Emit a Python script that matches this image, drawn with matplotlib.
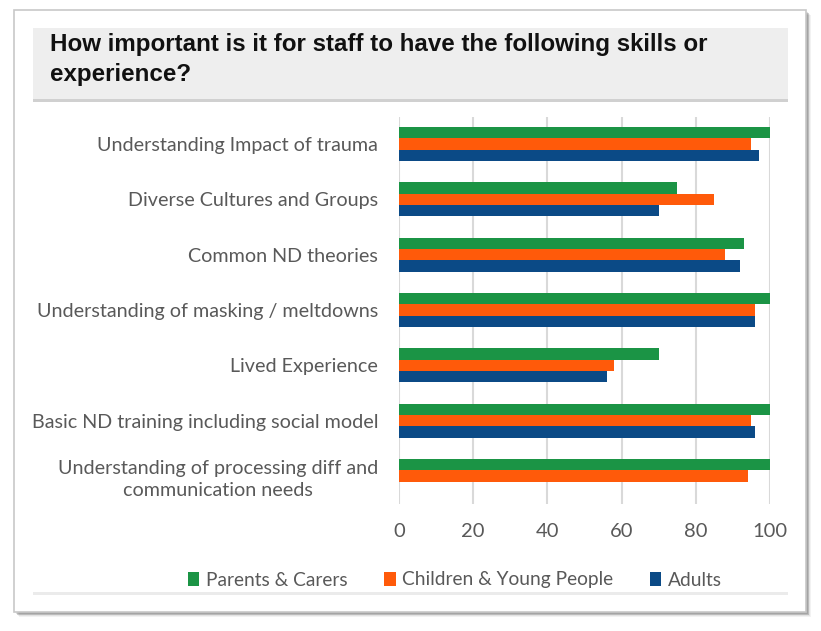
import numpy as np
import matplotlib
matplotlib.use("Agg")
import matplotlib.pyplot as plt
from matplotlib.patches import Rectangle
from matplotlib.transforms import Bbox

categories = [
    "Understanding Impact of trauma",
    "Diverse Cultures and Groups",
    "Common ND theories",
    "Understanding of masking / meltdowns",
    "Lived Experience",
    "Basic ND training including social model",
    "Understanding of processing diff and\ncommunication needs",
]
parents = [100, 75, 93, 100, 70, 100, 100]
children = [95, 85, 88, 96, 58, 95, 94]
adults = [97, 70, 92, 96, 56, 96, np.nan]
series_names = ["Parents & Carers", "Children & Young People", "Adults"]
x_ticks = [0, 20, 40, 60, 80, 100]

colors = ["#1B9445", "#FF5A0A", "#0B4A86"]
label_font = ["Lato", "DejaVu Sans"]
title_font = ["Liberation Sans Narrow", "Liberation Sans", "DejaVu Sans"]

W, H = 821, 631
fig = plt.figure(figsize=(W / 100, H / 100), dpi=100)
fig.patch.set_facecolor("white")

def px(x, y, w, h):
    return (x / W, 1 - (y + h) / H, w / W, h / H)

# drop shadow of the card
for i, a in enumerate([0.05, 0.06, 0.08, 0.10, 0.12]):
    off = 8 - i * 1.2
    x0, y0, w0, h0 = px(14 + off * 0.6, 10 + off * 0.6, 792, 602)
    fig.patches.append(Rectangle((x0, y0), w0, h0, transform=fig.transFigure,
                                 facecolor="black", alpha=a, edgecolor="none", zorder=0))
x0, y0, w0, h0 = px(14, 10, 792, 602)
fig.patches.append(Rectangle((x0, y0), w0, h0, transform=fig.transFigure,
                             facecolor="white", edgecolor="#C8C8C8", linewidth=1.2, zorder=1))

# title band
x0, y0, w0, h0 = px(33, 28, 755, 72)
fig.patches.append(Rectangle((x0, y0), w0, h0, transform=fig.transFigure,
                             facecolor="#EEEEEE", edgecolor="none", zorder=2))
x0, y0, w0, h0 = px(33, 99, 755, 2.5)
fig.patches.append(Rectangle((x0, y0), w0, h0, transform=fig.transFigure,
                             facecolor="#D0D0D0", edgecolor="none", zorder=2))
# bottom line below legend
x0, y0, w0, h0 = px(33, 592, 755, 3)
fig.patches.append(Rectangle((x0, y0), w0, h0, transform=fig.transFigure,
                             facecolor="#EBEBEB", edgecolor="none", zorder=2))

fig.text(50 / W, 1 - 59.5 / H, "How important is it for staff to have the following skills or\nexperience?",
         ha="left", va="center", fontsize=17.4, fontweight="bold", family=title_font,
         color="#111111", linespacing=1.42, zorder=3)

ax = fig.add_axes([399 / W, 1 - 503.5 / H, (770 - 399) / W, (503.5 - 116.5) / H])
ax.set_facecolor("none")
ax.set_zorder(3)

y = np.arange(len(categories))
h = 0.205
ax.barh(y - h, parents, height=h, color=colors[0], label=series_names[0], zorder=3)
ax.barh(y, children, height=h, color=colors[1], label=series_names[1], zorder=3)
ax.barh(y + h, adults, height=h, color=colors[2], label=series_names[2], zorder=3)

ax.set_ylim(len(categories) - 0.5, -0.5)
ax.set_xlim(0, 100)
ax.set_xticks(x_ticks)
ax.set_yticks(y)
ax.set_yticklabels(categories, family=label_font, fontsize=14.2, color="#595959",
                   multialignment="center", linespacing=1.3)
for lab in ax.get_xticklabels():
    lab.set_family(label_font)
ax.tick_params(axis="x", labelsize=14.5, labelcolor="#595959", length=0, pad=14)
ax.tick_params(axis="y", length=0, pad=15)
ax.grid(axis="x", color="#D9D9D9", linewidth=1.5, zorder=0)
ax.set_axisbelow(True)
for s in ax.spines.values():
    s.set_visible(False)

clip = Bbox([[33, 0], [W, H]])
for lab in ax.get_yticklabels():
    lab.set_clip_box(clip)
    lab.set_clip_on(True)

leg = fig.legend(loc="center", bbox_to_anchor=(455 / W, 1 - 580 / H), ncol=3, frameon=False,
                 prop={"family": label_font, "size": 13.8}, handlelength=0.6, handleheight=0.8,
                 handletextpad=0.35, columnspacing=1.9, labelcolor="#595959")

fig.savefig("out.png", dpi=100, facecolor="white")
